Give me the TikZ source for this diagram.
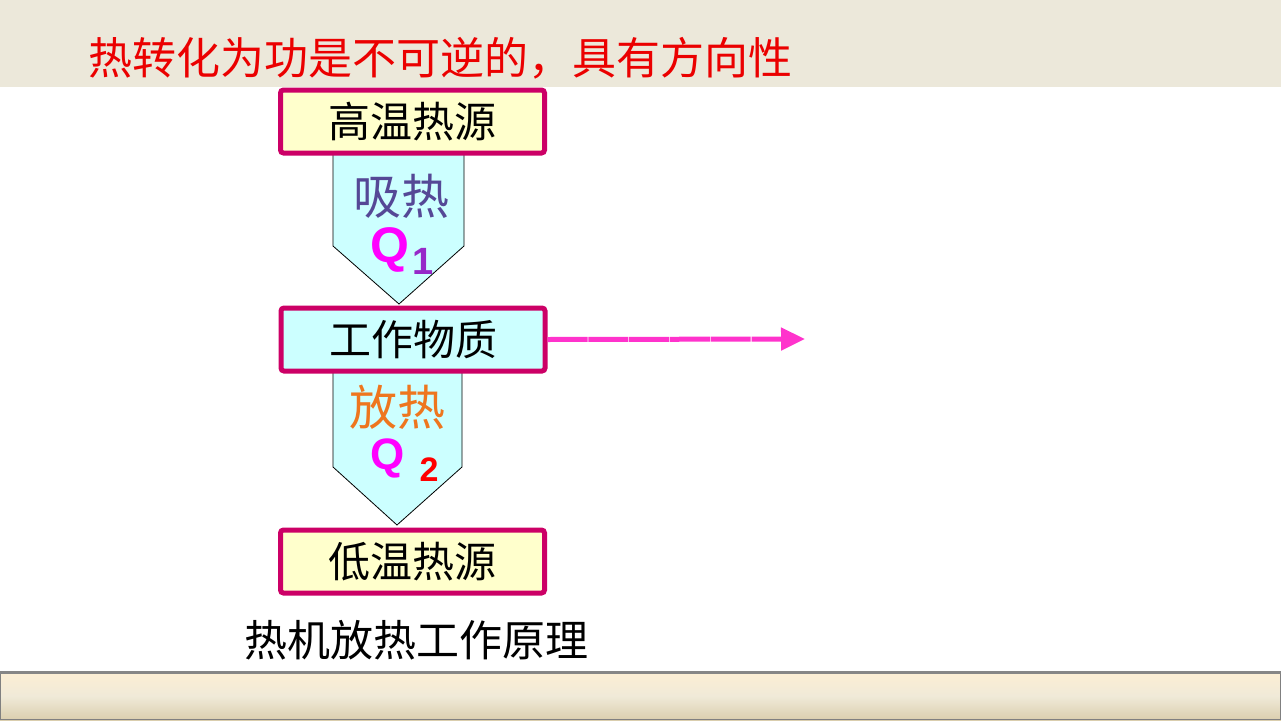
\documentclass[tikz,border=0pt]{standalone}
\usepackage{fontspec}
\newfontfamily\cjk{Noto Sans CJK SC}
\newfontfamily\lat{Liberation Sans}
\usetikzlibrary{arrows.meta}
\definecolor{banner}{RGB}{236,232,218}
\definecolor{crimson}{RGB}{204,0,102}
\definecolor{paleyellow}{RGB}{255,255,204}
\definecolor{palecyan}{RGB}{204,255,255}
\definecolor{pinkarrow}{RGB}{255,51,204}
\definecolor{titlered}{RGB}{235,0,0}
\definecolor{slateblue}{RGB}{85,72,150}
\definecolor{heatorange}{RGB}{238,118,30}
\definecolor{qpurple}{RGB}{150,40,200}
\definecolor{qmagenta}{RGB}{255,0,255}
\definecolor{barTop}{RGB}{252,238,212}
\definecolor{barMid}{RGB}{240,234,216}
\definecolor{barBot}{RGB}{218,206,174}
\begin{document}
\begin{tikzpicture}[x=1pt,y=-1pt,
  box/.style={draw=crimson,line width=5pt,rounded corners=3pt,minimum width=264pt,minimum height=63pt,inner sep=0pt,font=\cjk\fontsize{42}{42}\selectfont},
  blockarrow/.style={fill=palecyan,draw=black,line width=0.8pt,line join=miter},
  qlabel/.style={inner sep=0pt}
]
\useasboundingbox (0,0) rectangle (1281,720);
% background
\fill[white] (0,0) rectangle (1281,720);
\fill[banner] (0,0) rectangle (1281,87);
% title
\node[anchor=west,text=titlered,font=\cjk\fontsize{44}{44}\selectfont,inner sep=0pt] (title) at (88,58) {热转化为功是不可逆的，具有方向性};
% block arrows
\path[blockarrow] (333,154) -- (464,154) -- (464,246) -- (399,304) -- (333,246) -- cycle;
\path[blockarrow] (333,372) -- (462,372) -- (462,467) -- (397,525) -- (333,467) -- cycle;
% boxes
\node[box,fill=paleyellow] (hot) at (412.5,121.5) {高温热源};
\node[box,fill=palecyan] (work) at (413,339.5) {工作物质};
\node[box,fill=paleyellow] (cold) at (412.5,561.5) {低温热源};
% arrow labels
\node[text=slateblue,font=\cjk\fontsize{48}{48}\selectfont,inner sep=0pt] (absorb) at (401,196) {吸热};
\node[qlabel,text=qmagenta,font=\lat\bfseries\fontsize{50}{50}\selectfont] (q1) at (390,250) {Q};
\node[qlabel,text=qpurple,font=\lat\bfseries\fontsize{38}{38}\selectfont] (q1sub) at (423,261) {1};
\node[text=heatorange,font=\cjk\fontsize{48}{48}\selectfont,inner sep=0pt] (release) at (397,407) {放热};
\node[qlabel,text=qmagenta,font=\lat\bfseries\fontsize{44}{44}\selectfont] (q2) at (388,458) {Q};
\node[qlabel,text=red,font=\lat\bfseries\fontsize{34}{34}\selectfont] (q2sub) at (429,470) {2};
% work arrow
\coordinate (workend) at (805,339);
\draw[pinkarrow,line width=5pt,dash pattern=on 40pt off 0.8pt,-{Triangle[length=24pt,width=22pt]}] (work.east) -- (workend);
% caption
\node[font=\cjk\fontsize{43}{43}\selectfont,inner sep=0pt] (caption) at (416,640) {热机放热工作原理};
% bottom bar
\shade[top color=barTop,bottom color=barBot,middle color=barMid] (0,672) rectangle (1281,720);
\draw[gray,line width=1pt] (0.5,672) -- (0.5,719.5) -- (1280.5,719.5) -- (1280.5,672);
\draw[gray!95,line width=3pt] (0,672) -- (1281,672);
\end{tikzpicture}
\end{document}
